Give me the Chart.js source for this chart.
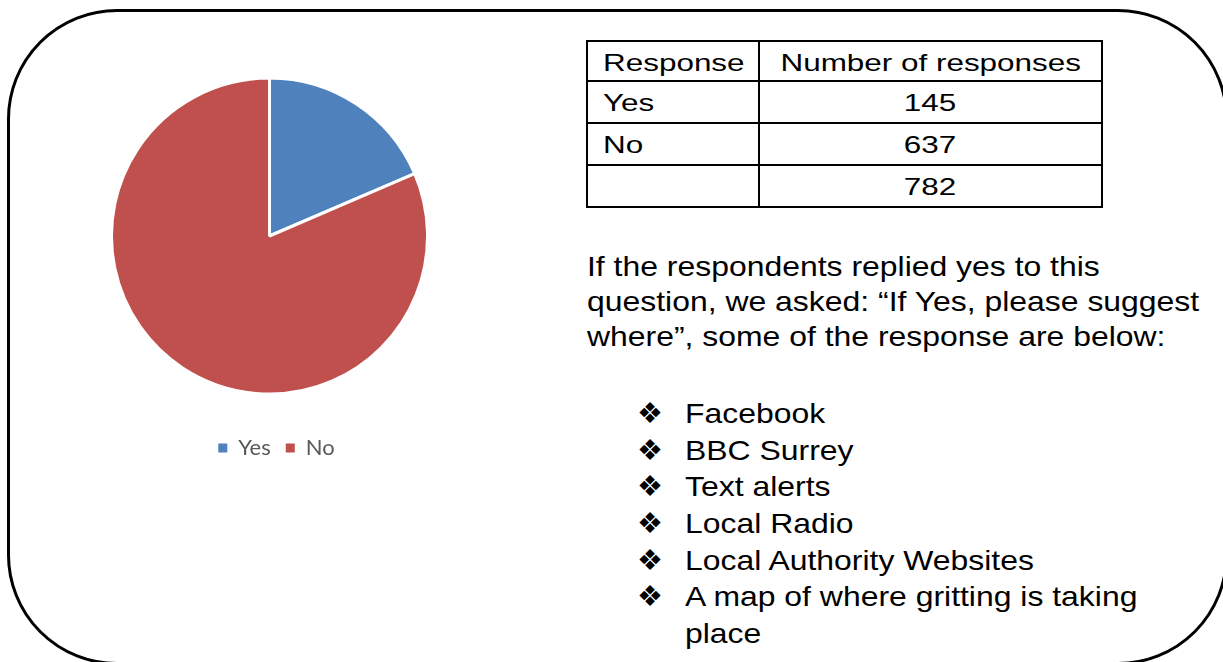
<!DOCTYPE html>
<html>
<head>
<meta charset="utf-8">
<script src="https://cdn.jsdelivr.net/npm/chart.js@4/dist/chart.umd.min.js"></script>
<style>
  html, body { margin: 0; padding: 0; background: #fff; }
  body {
    width: 1223px;
    height: 662px;
    position: relative;
    overflow: hidden;
    font-family: "Liberation Sans", Arial, sans-serif;
    color: #000;
  }
  .frame {
    position: absolute;
    left: 7px;
    top: 9px;
    width: 1221px;
    height: 656px;
    box-sizing: border-box;
    border: 3px solid #000;
    border-radius: 110px;
  }
  #pie-chart { position: absolute; left: 110px; top: 50px; }
  .grid { position: absolute; left: 586px; top: 40px; }
  .cell {
    position: absolute;
    box-sizing: border-box;
    border: 2px solid #000;
    padding-top: 2px;
    font-size: 24px;
    line-height: 38px;
    white-space: nowrap;
  }
  .cell span { display: inline-block; transform: scaleX(1.31); }
  .cell.left { padding-left: 15px; }
  .cell.left span { transform-origin: left center; }
  .cell.mid { text-align: center; }
  .cell.mid span { transform-origin: center center; }
  .note {
    position: absolute;
    left: 587px;
    top: 249px;
    font-size: 28px;
    line-height: 35px;
    white-space: nowrap;
  }
  .note span, .items span.txt { display: inline-block; transform: scaleX(1.14); transform-origin: left center; }
  .items {
    position: absolute;
    left: 636px;
    top: 396px;
    font-size: 28px;
    line-height: 36.7px;
    white-space: nowrap;
  }
  .items div { position: relative; padding-left: 49px; height: 36.7px; }
  .items .mark {
    position: absolute;
    left: 1px;
    top: 0;
    font-family: "DejaVu Sans", sans-serif;
    font-size: 29px;
    line-height: 34px;
  }
</style>
</head>
<body>
<div class="frame"></div>
<canvas id="pie-chart" width="319" height="419"></canvas>
<div class="grid" id="response-table"></div>
<div class="note" id="note"></div>
<div class="items" id="suggestions"></div>

<script>
const labels = ['Yes', 'No'];
const responses = [145, 637];
const sliceColors = ['#4F81BD', '#C0504D'];
const tableHeader = ['Response', 'Number of responses'];

const noteLines = [
  'If the respondents replied yes to this',
  'question, we asked: \u201cIf Yes, please suggest',
  'where\u201d, some of the response are below:'
];

// each entry is one bullet, wrapped lines kept as separate strings
const suggestions = [
  ['Facebook'],
  ['BBC Surrey'],
  ['Text alerts'],
  ['Local Radio'],
  ['Local Authority Websites'],
  ['A map of where gritting is taking', 'place']
];

// table grid lines (px, relative to the table's corner)
const colEdges = [0, 174, 517];
const rowHeight = 42;

function buildCell(text, col, row, align) {
  const left = colEdges[col] - (col ? 2 : 0);
  const width = colEdges[col + 1] - colEdges[col] + (col ? 2 : 0);
  const top = row * rowHeight - (row ? 2 : 0);
  const height = rowHeight + (row ? 2 : 0);
  return `<div class="cell ${align}" style="left:${left}px;top:${top}px;width:${width}px;height:${height}px">` +
    `<span>${text}</span></div>`;
}

function renderTable() {
  const total = responses.reduce((sum, value) => sum + value, 0);
  const rows = [
    tableHeader,
    ...labels.map((label, i) => [label, responses[i]]),
    ['', total]
  ];
  document.getElementById('response-table').innerHTML = rows
    .map((row, r) => buildCell(row[0], 0, r, 'left') + buildCell(row[1], 1, r, 'mid'))
    .join('');
}

function renderNote() {
  document.getElementById('note').innerHTML = noteLines
    .map((line) => `<span>${line}</span>`)
    .join('<br>');
}

function renderSuggestions() {
  document.getElementById('suggestions').innerHTML = suggestions
    .map((lines) => lines
      .map((line, i) => `
        <div>
          ${i === 0 ? '<span class="mark">\u2756</span>' : ''}
          <span class="txt">${line}</span>
        </div>
      `)
      .join(''))
    .join('');
}

// legend sits a little right of the pie's centre line
const legendNudge = {
  id: 'legendNudge',
  afterLayout(chart) {
    chart.legend.left += 7;
    chart.legend.right += 7;
  }
};

function renderChart() {
  const defaultLabels = Chart.overrides.pie.plugins.legend.labels.generateLabels;

  new Chart(document.getElementById('pie-chart'), {
    type: 'pie',
    data: {
      labels,
      datasets: [
        {
          data: responses,
          backgroundColor: sliceColors,
          borderColor: '#ffffff',
          borderWidth: 3
        }
      ]
    },
    options: {
      responsive: false,
      animation: false,
      layout: { padding: 0 },
      plugins: {
        tooltip: { enabled: false },
        legend: {
          position: 'bottom',
          labels: {
            boxWidth: 9,
            boxHeight: 9,
            padding: 15,
            color: '#595959',
            font: { family: 'Lato', size: 22 },
            generateLabels: (chart) => defaultLabels(chart).map((item) => ({ ...item, lineWidth: 0 }))
          }
        }
      }
    },
    plugins: [legendNudge]
  });
}

renderTable();
renderNote();
renderSuggestions();
renderChart();
</script>
</body>
</html>
